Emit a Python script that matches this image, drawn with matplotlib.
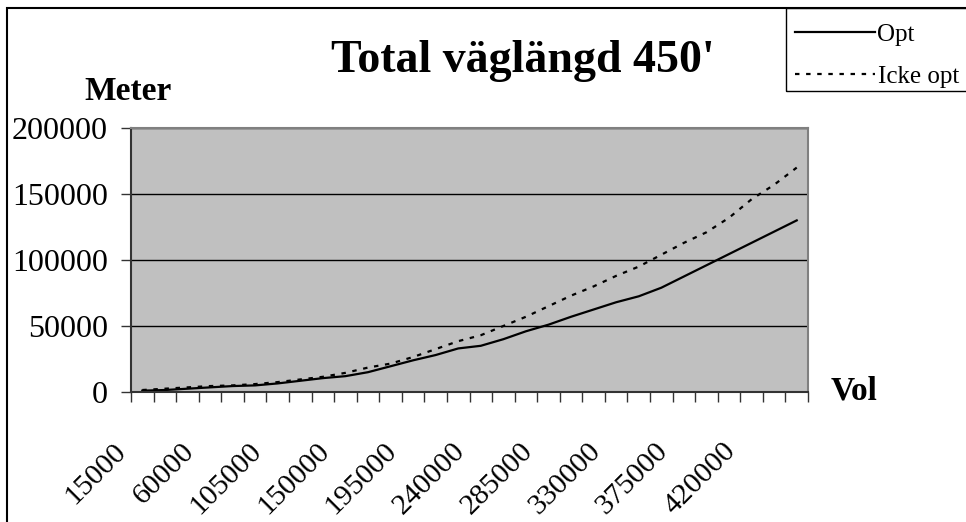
import matplotlib.pyplot as plt
from matplotlib.patches import Rectangle
from matplotlib.lines import Line2D

plt.rcParams['font.family'] = ['Liberation Serif', 'DejaVu Serif']

# volym-kategorier (x) och total väglängd (meter)
vol = [15000, 30000, 45000, 60000, 75000, 90000, 105000, 120000, 135000, 150000,
       165000, 180000, 195000, 210000, 225000, 240000, 255000, 270000, 285000, 300000,
       315000, 330000, 345000, 360000, 375000, 390000, 405000, 420000, 435000, 450000]
opt = [1000, 1500, 2500, 3500, 4500, 5000, 6500, 8500, 10500, 12000,
       15000, 19500, 24000, 28000, 33000, 35000, 40000, 46000, 51000, 57000,
       62500, 68000, 72500, 79000, 87500, 96000, 104500, 113000, 121500, 130000]
icke_opt = [1500, 2500, 3500, 4500, 5000, 6000, 7500, 9500, 11500, 14500,
            18500, 21500, 26500, 32500, 38500, 43000, 50000, 57000, 65000, 73000,
            80000, 88000, 95000, 104000, 113000, 121000, 132000, 146000, 157000, 170000]
y_ticks = [0, 50000, 100000, 150000, 200000]

W, H = 966, 522
fig = plt.figure(figsize=(W / 100, H / 100), dpi=100)

# yttre ram
fig.patches.append(Rectangle((7 / W, -0.1), 1.2, (H - 8) / H + 0.1, transform=fig.transFigure,
                             fill=False, edgecolor='black', linewidth=1.5))

ax = fig.add_axes([131 / W, (H - 392) / H, 677 / W, 264 / H])
ax.set_facecolor('#C0C0C0')

x = list(range(len(vol)))
ax.plot(x, opt, color='black', linewidth=1.6, label='Opt')
ax.plot(x, icke_opt, color='black', linewidth=1.6, linestyle=(0, (2, 3)), label='Icke opt')

ax.set_xlim(-0.5, len(vol) - 0.5)
ax.set_ylim(0, 200000)
ax.set_yticks(y_ticks)
ax.set_yticklabels([str(v) for v in y_ticks], fontsize=23)
ax.yaxis.grid(True, color='black', linewidth=1)
ax.set_axisbelow(True)

# tickmarks mellan kategorierna, etiketter var tredje kategori
ax.set_xticks([i - 0.5 for i in range(len(vol) + 1)])
ax.set_xticklabels([])
for i in x[::3]:
    ax.annotate(str(vol[i]), xy=(i, 0), xycoords=ax.get_xaxis_transform(),
                xytext=(-20, -55), textcoords='offset pixels', fontsize=21.5,
                rotation=45, ha='right', va='center', rotation_mode='anchor',
                annotation_clip=False)
ax.tick_params(axis='x', which='major', direction='out', length=7, width=1, color='#333333')
ax.tick_params(axis='y', direction='out', length=7.5, width=1, color='#333333', pad=9)

for s in ['top', 'right']:
    ax.spines[s].set_color('#808080')
    ax.spines[s].set_linewidth(1.5)
for s in ['left', 'bottom']:
    ax.spines[s].set_color('#333333')
    ax.spines[s].set_linewidth(1.5)

fig.text(523 / W, 1 - 61 / H, "Total väglängd 450'", fontsize=33, fontweight='bold',
         ha='center', va='center')
fig.text(128 / W, 1 - 92 / H, 'Meter', fontsize=24, fontweight='bold', ha='center', va='center')
fig.text(854 / W, 1 - 391 / H, 'Vol', fontsize=24, fontweight='bold', ha='center', va='center')

# legend
fig.patches.append(Rectangle((786 / W, (H - 91) / H), 0.3, 83 / H, transform=fig.transFigure,
                             fill=False, edgecolor='black', linewidth=1))
handles = [Line2D([], [], color='black', linewidth=1.6),
           Line2D([], [], color='black', linewidth=1.6, linestyle=(0, (2, 3)))]
leg = fig.legend(handles, ['Opt', 'Icke opt'], loc='upper left',
                 bbox_to_anchor=(795 / W, 1 - 23 / H), frameon=False, fontsize=18,
                 handlelength=3.2, handletextpad=0.1, labelspacing=0.78, borderaxespad=0,
                 borderpad=0)

fig.savefig('out.png', dpi=100)
